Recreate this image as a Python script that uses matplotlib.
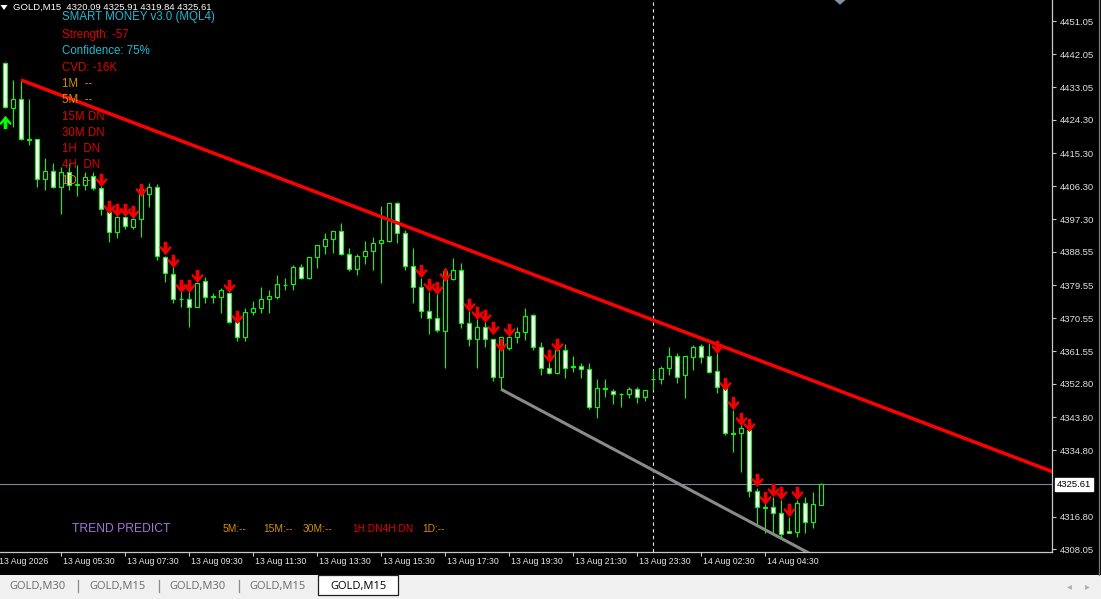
import matplotlib
matplotlib.use('Agg')
import matplotlib.pyplot as plt
import numpy as np
from matplotlib.path import Path
from matplotlib.patches import Rectangle, Polygon
from matplotlib.lines import Line2D

plt.rcParams['font.family'] = ['Liberation Sans', 'DejaVu Sans']

# ---------------- data ----------------
opens = [4439.76, 4427.41, 4429.85, 4419.00, 4419.00, 4408.18, 4410.43, 4406.01, 4410.16, 4406.77,
         4406.64, 4408.94, 4405.74, 4399.41, 4393.99, 4397.89, 4395.34, 4397.35, 4404.12, 4406.01,
         4387.22, 4382.45, 4375.76, 4375.68, 4373.68, 4380.64, 4376.44, 4376.22, 4377.47, 4369.61,
         4365.55, 4372.32, 4373.24, 4375.68, 4376.39, 4379.47, 4379.74, 4384.35, 4381.37, 4387.05,
         4390.20, 4391.93, 4394.10, 4387.87, 4383.81, 4387.33, 4388.68, 4390.85, 4391.47, 4401.68,
         4393.56, 4384.78, 4379.09, 4372.51, 4370.53, 4367.18, 4381.10, 4383.62, 4369.18, 4364.85,
         4368.18, 4364.85, 4354.72, 4362.41, 4365.39, 4366.90, 4371.35, 4362.84, 4356.99, 4355.64,
         4361.95, 4357.48, 4357.62, 4356.72, 4346.59, 4351.58, 4350.93, 4350.03, 4349.95, 4351.31,
         4349.14, 4353.96, 4354.02, 4356.99, 4360.32, 4355.10, 4360.13, 4363.03, 4360.32, 4356.26,
         4351.58, 4339.47, 4339.39, 4340.28, 4323.85, 4319.43, 4319.35, 4317.89, 4312.93, 4312.74,
         4320.59, 4315.45, 4320.09]
highs = [4440.03, 4435.07, 4435.07, 4429.85, 4419.10, 4413.95, 4412.51, 4411.59, 4412.59, 4412.05,
         4410.24, 4410.24, 4406.64, 4399.87, 4400.76, 4398.51, 4398.97, 4406.64, 4407.10, 4406.91,
         4387.41, 4385.51, 4380.10, 4380.10, 4382.80, 4381.80, 4377.39, 4378.66, 4378.20, 4370.62,
         4373.40, 4375.30, 4378.93, 4378.20, 4382.26, 4381.45, 4384.97, 4385.24, 4387.05, 4390.39,
         4393.56, 4394.10, 4396.43, 4389.49, 4387.95, 4391.47, 4392.47, 4400.95, 4401.84, 4402.03,
         4394.45, 4389.49, 4381.45, 4377.74, 4377.74, 4384.08, 4386.78, 4385.59, 4372.78, 4371.43,
         4370.07, 4364.93, 4365.39, 4368.26, 4368.26, 4373.24, 4371.70, 4364.20, 4359.24, 4362.84,
         4363.57, 4360.32, 4358.35, 4358.51, 4354.02, 4354.02, 4351.31, 4350.39, 4352.01, 4351.85,
         4351.12, 4356.53, 4357.62, 4362.84, 4361.22, 4360.32, 4363.30, 4363.49, 4363.76, 4361.49,
         4352.47, 4345.70, 4342.53, 4341.64, 4324.58, 4321.32, 4322.14, 4321.32, 4316.80, 4321.32,
         4322.22, 4323.57, 4325.91]
lows = [4427.49, 4422.43, 4418.82, 4417.47, 4406.09, 4405.28, 4405.74, 4398.70, 4405.28, 4403.74,
        4405.28, 4405.28, 4398.51, 4391.28, 4392.20, 4394.72, 4394.72, 4392.63, 4400.60, 4386.32,
        4380.28, 4374.68, 4373.60, 4368.26, 4373.60, 4374.60, 4374.68, 4371.89, 4369.26, 4364.39,
        4364.39, 4371.43, 4371.89, 4372.05, 4375.76, 4378.20, 4378.20, 4381.18, 4381.18, 4384.24,
        4387.95, 4388.14, 4387.68, 4383.35, 4382.26, 4385.24, 4383.62, 4380.18, 4391.28, 4390.85,
        4383.62, 4374.76, 4370.53, 4366.28, 4366.90, 4357.16, 4380.91, 4367.83, 4363.11, 4357.16,
        4362.84, 4353.64, 4351.31, 4361.95, 4363.76, 4364.66, 4361.95, 4355.18, 4355.45, 4355.45,
        4354.45, 4356.07, 4354.45, 4345.89, 4343.45, 4349.30, 4347.32, 4346.59, 4349.03, 4347.68,
        4348.22, 4351.12, 4352.66, 4355.18, 4353.09, 4348.87, 4356.53, 4358.35, 4355.64, 4350.22,
        4338.93, 4334.41, 4328.99, 4322.06, 4314.82, 4312.39, 4312.31, 4311.39, 4312.31, 4311.39,
        4312.31, 4313.66, 4319.84]
closes = [4427.76, 4429.85, 4419.01, 4418.93, 4408.18, 4410.43, 4406.18, 4410.08, 4406.64, 4406.91,
          4408.88, 4405.74, 4400.05, 4393.99, 4397.89, 4395.53, 4397.35, 4405.47, 4406.01, 4387.41,
          4382.72, 4375.68, 4375.63, 4373.68, 4380.18, 4376.39, 4376.30, 4378.20, 4369.61, 4365.47,
          4372.32, 4373.24, 4375.76, 4376.66, 4379.74, 4379.61, 4384.35, 4381.37, 4387.05, 4390.31,
          4391.93, 4394.10, 4387.87, 4383.81, 4387.33, 4388.68, 4390.85, 4391.66, 4401.68, 4393.56,
          4384.78, 4379.09, 4372.59, 4370.53, 4367.37, 4383.43, 4383.62, 4369.34, 4364.85, 4368.10,
          4364.93, 4354.72, 4365.39, 4365.39, 4366.74, 4371.16, 4362.84, 4356.99, 4355.64, 4361.95,
          4357.16, 4357.35, 4356.72, 4346.59, 4351.58, 4351.50, 4349.95, 4349.95, 4351.31, 4349.30,
          4351.12, 4354.02, 4356.99, 4360.32, 4354.72, 4360.32, 4362.68, 4359.97, 4356.07, 4351.85,
          4339.39, 4339.33, 4340.74, 4323.85, 4319.35, 4319.29, 4317.89, 4312.04, 4312.31, 4320.59,
          4315.29, 4320.16, 4325.61]

sell_idx = [12, 13, 14, 15, 16, 17, 20, 21, 22, 23, 24, 28, 29, 52, 53, 54, 55, 58, 59, 60,
            61, 62, 63, 68, 69, 89, 90, 91, 92, 93, 94, 95, 96, 97, 98, 99]
sell_price = [4407.99, 4400.81, 4399.87, 4399.87, 4399.19, 4405.28, 4389.44, 4385.92, 4379.15, 4379.15,
              4381.86, 4379.15, 4371.02, 4383.21, 4379.42, 4378.61, 4382.13, 4374.14, 4371.84, 4371.29,
              4367.91, 4363.17, 4367.50, 4360.19, 4363.17, 4362.63, 4352.61, 4347.46, 4343.13, 4341.77,
              4326.61, 4321.87, 4323.90, 4323.09, 4318.75, 4323.09]
buy_idx = [0]
buy_price = [4423.83]

trend_red_x = [2, 81]
trend_red_y = [4435.07, 4370.08]
trend_gray_x = [62, 100]
trend_gray_y = [4351.31, 4307.51]

bid_price = 4325.61
separator_bar = 81

price_ticks = [4451.05, 4442.05, 4433.05, 4424.30, 4415.30, 4406.30, 4397.30, 4388.55, 4379.55,
               4370.55, 4361.55, 4352.80, 4343.80, 4334.80, 4316.80, 4308.05]
price_labels = ['%.2f' % v for v in price_ticks]

time_idx = [-1, 7, 15, 23, 31, 39, 47, 55, 63, 71, 79, 87, 95]
time_labels = ['13 Aug 2026', '13 Aug 05:30', '13 Aug 07:30', '13 Aug 09:30', '13 Aug 11:30',
               '13 Aug 13:30', '13 Aug 15:30', '13 Aug 17:30', '13 Aug 19:30', '13 Aug 21:30',
               '13 Aug 23:30', '14 Aug 02:30', '14 Aug 04:30']

panel_lines = ['SMART MONEY v3.0 (MQL4)', 'Strength: -57', 'Confidence: 75%', 'CVD: -16K',
               '1M  --', '5M  --', '15M DN', '30M DN', '1H  DN', '4H  DN', '1D  --']
predict_labels = ['5M:--', '15M:--', '30M:--', '1H:DN4H:DN', '1D:--']
tab_labels = ['GOLD,M30', 'GOLD,M15', 'GOLD,M30', 'GOLD,M15', 'GOLD,M15']
header = 'GOLD,M15  4320.09 4325.91 4319.84 4325.61'

# ---------------- colours ----------------
LIME = '#00FF00'
RED = '#FF0000'
CYAN = '#1EBAD6'
TRED = '#E00000'
ORANGE = '#D48E00'
VIOLET = '#A873D8'
FRAME = '#C8C8C8'

# ---------------- figure ----------------
W, H = 1101, 599
fig = plt.figure(figsize=(W / 100, H / 100), dpi=100, facecolor='black')


def fp(x, y):
    return (x / W, 1 - y / H)


ax = fig.add_axes([0, (H - 552) / H, 1052 / W, 552 / H])
ax.set_facecolor('black')
ax.set_xlim(-0.625, 130.875)
ax.set_ylim(4307.24, 4456.74)

x = np.arange(len(opens))
o = np.array(opens); h = np.array(highs); l = np.array(lows); c = np.array(closes)

# separator and bid line
ax.axvline(separator_bar, color='#E8E8E8', lw=0.8, linestyle=(0, (3, 3)), zorder=1)
ax.axhline(bid_price, color='#778899', lw=0.8, zorder=1)

# wicks
ax.vlines(x, l, h, color=LIME, lw=0.8, zorder=2)
# bodies
bottoms = np.minimum(o, c)
heights = np.maximum(np.abs(c - o), 0.06)
faces = ['white' if cc < oo else 'black' for oo, cc in zip(o, c)]
ax.bar(x, heights, width=0.5, bottom=bottoms, color=faces, edgecolor=LIME, linewidth=0.8, zorder=3)

# trendlines (ray to the right for the red one)
sl = (trend_red_y[1] - trend_red_y[0]) / (trend_red_x[1] - trend_red_x[0])
xe = 140
ax.plot([trend_red_x[0], xe], [trend_red_y[0], trend_red_y[0] + sl * (xe - trend_red_x[0])],
        color=RED, lw=2.5, zorder=4, solid_capstyle='butt')
slg = (trend_gray_y[1] - trend_gray_y[0]) / (trend_gray_x[1] - trend_gray_x[0])
xg = 106
ax.plot([trend_gray_x[0], xg], [trend_gray_y[0], trend_gray_y[0] + slg * (xg - trend_gray_x[0])],
        color='#8A8A8A', lw=2.2, zorder=4, solid_capstyle='butt')

# arrow markers
verts = [(-0.28, 1.0), (0.28, 1.0), (0.28, -0.05), (0.72, 0.40), (0.92, 0.12), (0.0, -1.0),
         (-0.92, 0.12), (-0.72, 0.40), (-0.28, -0.05), (-0.28, 1.0)]
codes = [Path.MOVETO] + [Path.LINETO] * (len(verts) - 2) + [Path.CLOSEPOLY]
down_arrow = Path(verts, codes)
up_arrow = Path([(vx, -vy) for vx, vy in verts], codes)
ax.plot(sell_idx, sell_price, linestyle='none', marker=down_arrow, markersize=9.6,
        color='#F00000', markeredgewidth=0, zorder=5)
ax.plot(buy_idx, buy_price, linestyle='none', marker=up_arrow, markersize=9.6,
        color=LIME, markeredgewidth=0, zorder=5)

# axes frame
for s in ['left', 'top']:
    ax.spines[s].set_visible(False)
for s in ['right', 'bottom']:
    ax.spines[s].set_color(FRAME)
    ax.spines[s].set_linewidth(0.9)

ax.yaxis.tick_right()
ax.set_yticks(price_ticks)
ax.set_yticklabels(price_labels)
ax.tick_params(axis='y', colors=FRAME, labelcolor='#E0E0E0', length=3, width=0.8, pad=2.5, labelsize=6.8)
ax.set_xticks([t for t in time_idx if t >= 0])
ax.set_xticklabels([])
ax.tick_params(axis='x', colors=FRAME, length=3, width=0.8)

for ti, tl in zip(time_idx, time_labels):
    ax.annotate(tl, xy=(ti, 0), xycoords=('data', 'axes fraction'), xytext=(1.2, -6.6),
                textcoords='offset points', ha='left', va='center', fontsize=6.3,
                color='#E8E8E8', annotation_clip=False)

# current price label
ax.annotate('%.2f' % bid_price, xy=(1, bid_price), xycoords=('axes fraction', 'data'),
            xytext=(3.2, 0), textcoords='offset points', ha='left', va='center', fontsize=6.8,
            color='black', annotation_clip=False,
            bbox=dict(boxstyle='square,pad=0.2', fc='white', ec='white'))

# header
fig.patches.append(Polygon([fp(0.5, 5), fp(7.5, 5), fp(4, 10)], closed=True, transform=fig.transFigure,
                           fc='white', ec='none'))
fig.text(*fp(12.7, 7.6), header, fontsize=6.8, color='white', va='center', ha='left')
# chart-shift marker at top
fig.patches.append(Polygon([fp(834.5, 0), fp(845.5, 0), fp(840, 4.8)], closed=True,
                           transform=fig.transFigure, fc='#7F93A8', ec='none'))
# right window edge
fig.add_artist(Line2D([1099 / W, 1099 / W], [1, 1 - 575 / H], color='#7A7A7A', lw=0.9,
                      transform=fig.transFigure))

# indicator panel
panel_colors = [CYAN, TRED, CYAN, TRED, ORANGE, ORANGE, TRED, TRED, TRED, TRED, ORANGE]
panel_y = [17.3, 35.0, 51.5, 67.8, 84.3, 100.4, 116.5, 132.7, 148.9, 164.8, 180.8]
for txt, col, yy in zip(panel_lines, panel_colors, panel_y):
    fig.text(*fp(62.3, yy), txt, fontsize=8.3, color=col, va='center', ha='left', zorder=6)

fig.text(*fp(72.5, 529.3), 'TREND PREDICT', fontsize=8.7, color=VIOLET, va='center', ha='left')
pred_x = [222.5, 263.0, 302.5, 352.5, 422.5]
pred_c = [ORANGE, ORANGE, ORANGE, TRED, ORANGE]
for txt, xx, col in zip(predict_labels, pred_x, pred_c):
    fig.text(*fp(xx, 529.3), txt, fontsize=7.4, color=col, va='center', ha='left')

# tab bar
fig.patches.append(Rectangle(fp(0, 599), 1, 24 / H, transform=fig.transFigure, fc='#F0F0F0', ec='none'))
fig.patches.append(Rectangle(fp(318, 595), 80 / W, 20 / H, transform=fig.transFigure, fc='white',
                             ec='#202020', lw=0.9))
tab_cx = [37.5, 117.5, 198.0, 277.5, 358.0]
for i, (tl, cx) in enumerate(zip(tab_labels, tab_cx)):
    fig.text(*fp(cx, 586.3), tl, fontsize=8.0, color='black' if i == 4 else '#6A6A6A',
             va='center', ha='center', family=['Open Sans', 'DejaVu Sans'])
for sx in [78, 158.5, 238.5]:
    fig.add_artist(Line2D([sx / W, sx / W], [1 - 580 / H, 1 - 592 / H], color='#8A8A8A', lw=0.9,
                          transform=fig.transFigure))
fig.text(*fp(1069.5, 586.5), '\u25c2', fontsize=7, color='#B0B0B0', va='center', ha='center',
         family=['DejaVu Sans'])
fig.text(*fp(1087.5, 586.5), '\u25b8', fontsize=7, color='#B0B0B0', va='center', ha='center',
         family=['DejaVu Sans'])

fig.savefig('out.png', dpi=100, facecolor='black')
